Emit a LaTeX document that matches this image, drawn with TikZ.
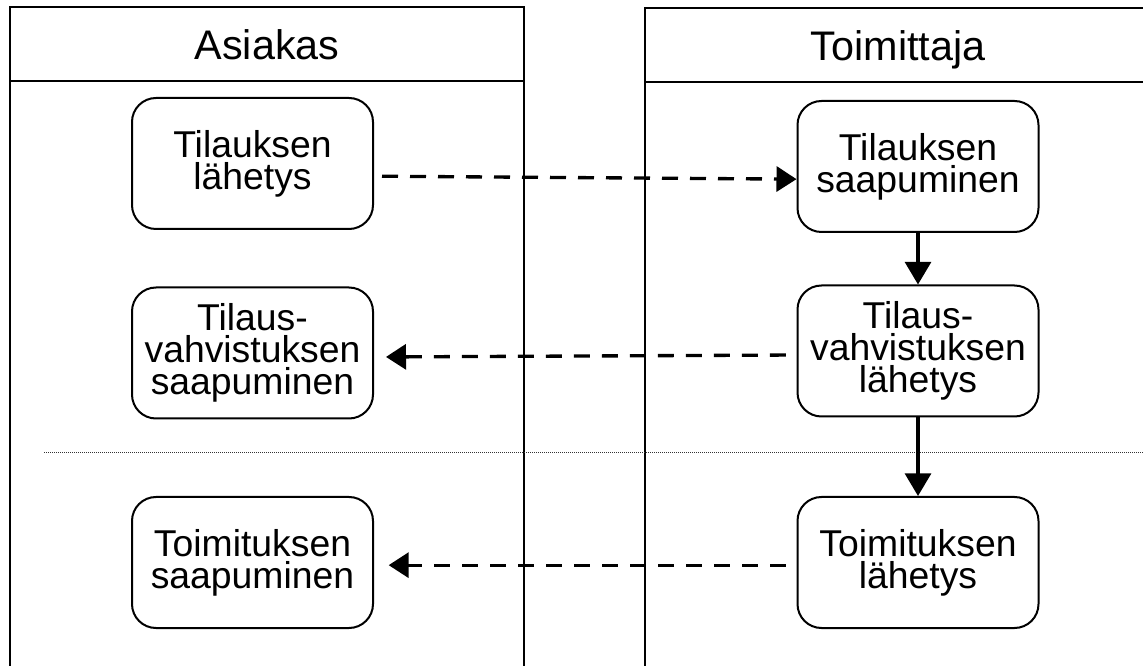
\documentclass[tikz,border=0pt]{standalone}
\usepackage{fontspec}
\setmainfont{Liberation Sans}
\usetikzlibrary{arrows.meta}
\begin{document}
\begin{tikzpicture}[x=0.75pt,y=-0.75pt,
  lane/.style={line width=1.5pt},
  lanetitle/.style={font=\fontsize{31}{36}\selectfont, inner sep=0pt, anchor=base},
  activity/.style={draw, line width=1.5pt, rounded corners=18pt,
    minimum width=180.75pt, minimum height=98.25pt, align=center,
    inner sep=2pt, font=\fontsize{28}{24}\selectfont},
  message/.style={line width=2.5pt, dash pattern=on 12pt off 9pt,
    -{Triangle[length=15pt,width=18.75pt]}},
  flow/.style={line width=2.5pt, -{Triangle[length=17pt,width=19.5pt]}}]
\useasboundingbox (0,0) rectangle (1143,666);
\fill[white] (0,0) rectangle (1143,666);

% swimlanes
\draw[lane] (10,680) -- (10,7) -- (524,7) -- (524,680);
\draw[lane] (10,81) -- (524,81);
\node[lanetitle] (asiakas) at (267,60) {Asiakas};
\draw[lane] (645,680) -- (645,8) -- (1160,8);
\draw[lane] (645,82) -- (1160,82);
\node[lanetitle] (toimittaja) at (898,61) {Toimittaja};

% phase separator
\draw[line width=0.75pt, dash pattern=on 0.75pt off 0.75pt, black!80] (44,453) -- (1150,453);

% customer activities
\node[activity] (a1) at (252.5,163.5) {Tilauksen\\lähetys};
\node[activity] (a2) at (252.5,353) {Tilaus-\\vahvistuksen\\saapuminen};
\node[activity] (a3) at (252.5,562.5) {Toimituksen\\saapuminen};

% supplier activities
\node[activity] (b1) at (918,166.5) {Tilauksen\\saapuminen};
\node[activity] (b2) at (918,351) {Tilaus-\\vahvistuksen\\lähetys};
\node[activity] (b3) at (918,562.5) {Toimituksen\\lähetys};

% messages between lanes
\draw[message, shorten <=6pt] ([yshift=-9.5pt]a1.east) -- ([yshift=-9.5pt]b1.west);
\draw[message, shorten <=8pt, shorten >=9pt] ([yshift=-3pt]b2.west) -- ([yshift=-3pt]a2.east);
\draw[message, shorten <=8pt, shorten >=11pt] ([yshift=-2pt]b3.west) -- ([yshift=-2pt]a3.east);

% supplier internal flow
\draw[flow] (b1.south) -- (b2.north);
\draw[flow] (b2.south) -- (b3.north);
\end{tikzpicture}
\end{document}
